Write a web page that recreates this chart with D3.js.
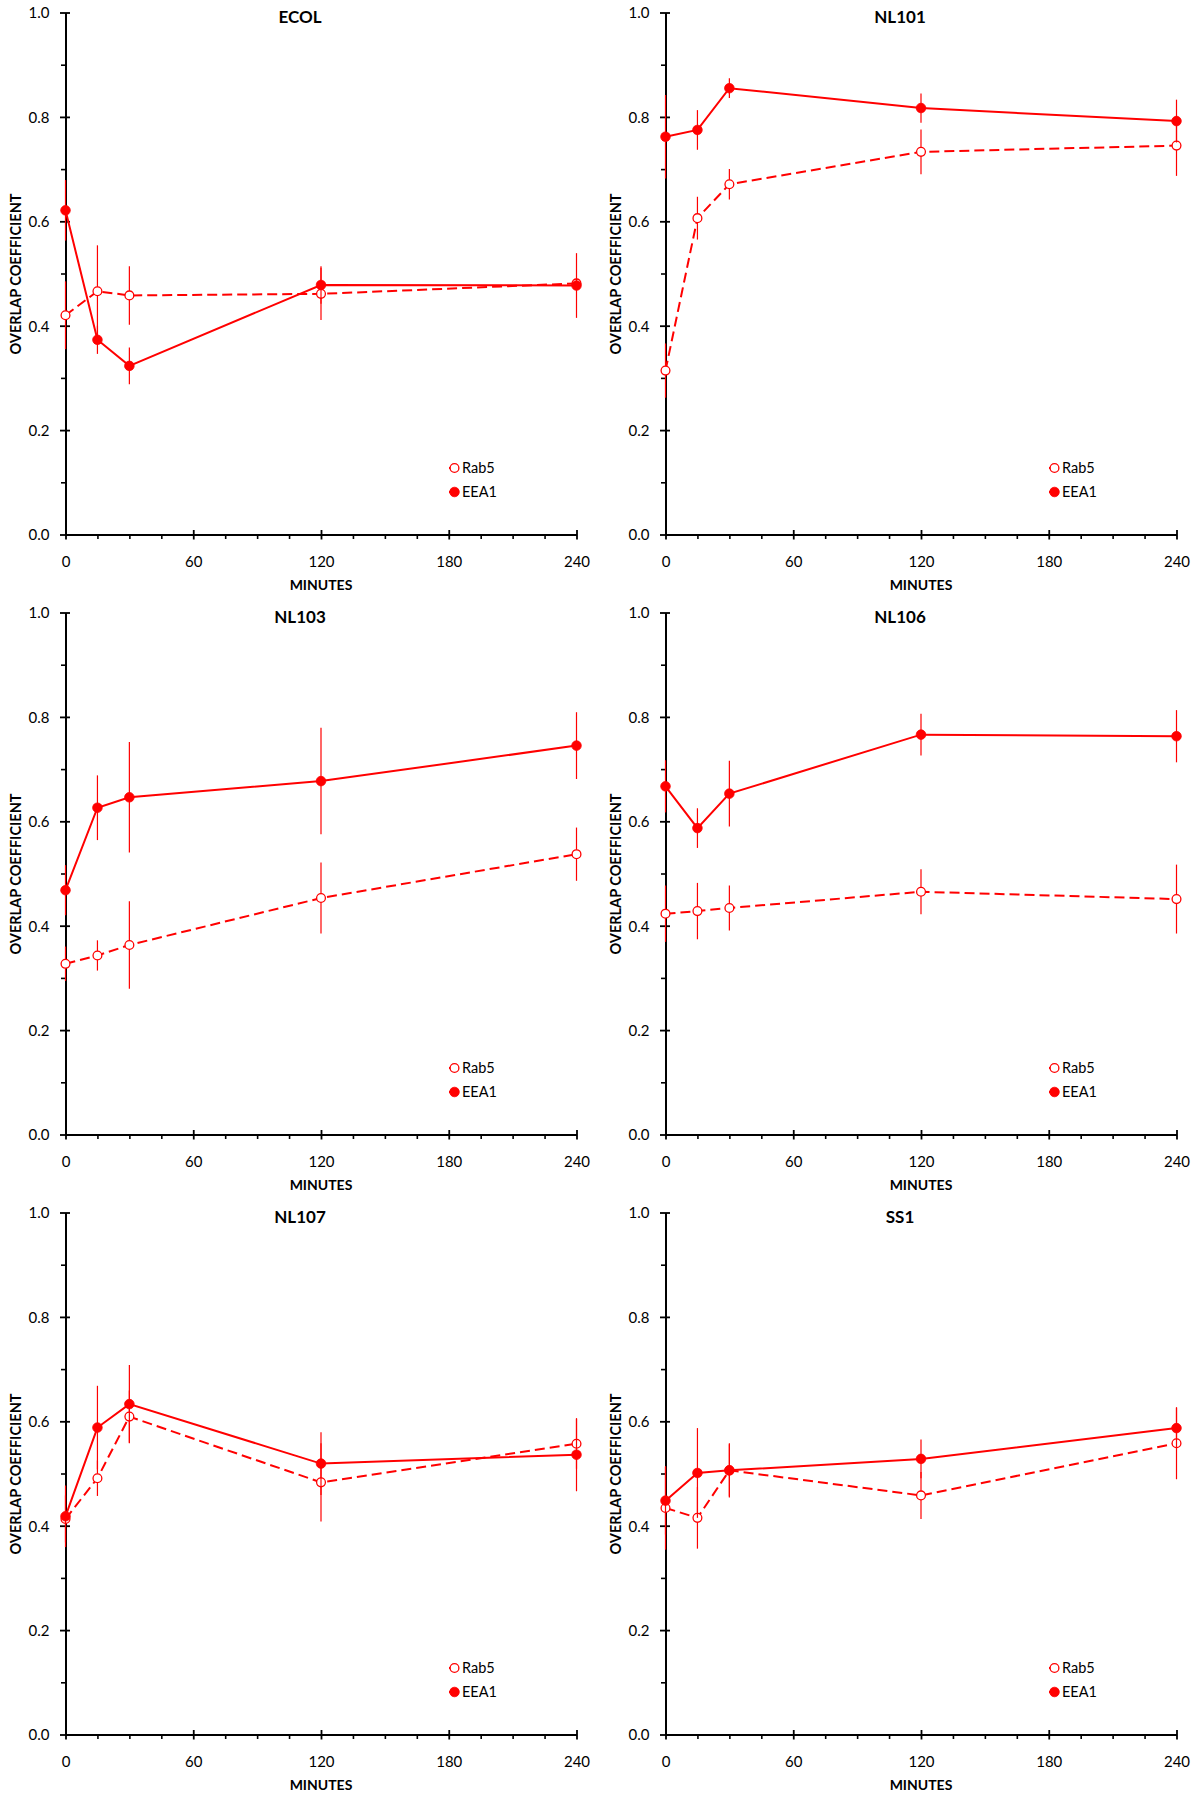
<!DOCTYPE html>
<html>
<head>
<meta charset="utf-8">
<script src="https://cdn.jsdelivr.net/npm/d3@7"></script>
<style>
  html, body { margin: 0; padding: 0; background: #fff; }
  svg { display: block; }
  text { font-family: Lato, "Open Sans", sans-serif; fill: #000; }
</style>
</head>
<body>
<svg id="chart" width="1200" height="1800"></svg>
<script>
// ---------------- DATA ----------------
const times = [0, 15, 30, 120, 240];
const panelNames = ["ECOL", "NL101", "NL103", "NL106", "NL107", "SS1"];
const seriesNames = ["Rab5", "EEA1"];
const yTickValues = [0, 0.2, 0.4, 0.6, 0.8, 1.0];
const yMinorTicks = [0.1, 0.3, 0.5, 0.7, 0.9];
const xTickValues = [0, 60, 120, 180, 240];
const xMinorTicks = [15, 30, 45, 75, 90, 105, 135, 150, 165, 195, 210, 225];

const ECOL_Rab5      = [0.420, 0.466, 0.458, 0.461, 0.481];
const ECOL_Rab5_err  = [0.065, 0.088, 0.056, 0.050, 0.010];
const ECOL_EEA1      = [0.621, 0.373, 0.323, 0.478, 0.477];
const ECOL_EEA1_err  = [0.058, 0.027, 0.035, 0.036, 0.062];

const NL101_Rab5     = [0.314, 0.606, 0.671, 0.733, 0.745];
const NL101_Rab5_err = [0.052, 0.041, 0.029, 0.043, 0.058];
const NL101_EEA1     = [0.762, 0.775, 0.855, 0.817, 0.792];
const NL101_EEA1_err = [0.080, 0.038, 0.019, 0.028, 0.041];

const NL103_Rab5     = [0.327, 0.343, 0.363, 0.453, 0.537];
const NL103_Rab5_err = [0.033, 0.029, 0.084, 0.068, 0.051];
const NL103_EEA1     = [0.468, 0.626, 0.646, 0.677, 0.745];
const NL103_EEA1_err = [0.048, 0.062, 0.106, 0.102, 0.064];

const NL106_Rab5     = [0.423, 0.428, 0.434, 0.465, 0.451];
const NL106_Rab5_err = [0.054, 0.054, 0.043, 0.043, 0.066];
const NL106_EEA1     = [0.667, 0.587, 0.653, 0.766, 0.763];
const NL106_EEA1_err = [0.050, 0.038, 0.063, 0.040, 0.050];

const NL107_Rab5     = [0.413, 0.491, 0.609, 0.483, 0.557];
const NL107_Rab5_err = [0.045, 0.034, 0.050, 0.075, 0.048];
const NL107_EEA1     = [0.418, 0.588, 0.633, 0.519, 0.536];
const NL107_EEA1_err = [0.059, 0.080, 0.075, 0.060, 0.070];

const SS1_Rab5       = [0.434, 0.415, 0.506, 0.458, 0.558];
const SS1_Rab5_err   = [0.080, 0.059, 0.050, 0.045, 0.069];
const SS1_EEA1       = [0.448, 0.501, 0.506, 0.528, 0.587];
const SS1_EEA1_err   = [0.065, 0.086, 0.052, 0.037, 0.039];

const panelRab5    = [ECOL_Rab5, NL101_Rab5, NL103_Rab5, NL106_Rab5, NL107_Rab5, SS1_Rab5];
const panelRab5Err = [ECOL_Rab5_err, NL101_Rab5_err, NL103_Rab5_err, NL106_Rab5_err, NL107_Rab5_err, SS1_Rab5_err];
const panelEEA1    = [ECOL_EEA1, NL101_EEA1, NL103_EEA1, NL106_EEA1, NL107_EEA1, SS1_EEA1];
const panelEEA1Err = [ECOL_EEA1_err, NL101_EEA1_err, NL103_EEA1_err, NL106_EEA1_err, NL107_EEA1_err, SS1_EEA1_err];

// ---------------- DRAW ----------------
const RED = "#ff0000";
const svg = d3.select("#chart");
const x = d3.scaleLinear().domain([0, 240]).range([65.5, 576.5]);
const y = d3.scaleLinear().domain([0, 1]).range([534.5, 12.5]);

panelNames.forEach((name, i) => {
  const col = i % 2, row = Math.floor(i / 2);
  const g = svg.append("g").attr("transform", `translate(${col * 600},${row * 600})`);

  // Y axis minor ticks
  g.append("g").attr("transform", `translate(${x(0)},0)`)
    .call(d3.axisLeft(y).tickValues(yMinorTicks).tickSize(4.5).tickFormat(""))
    .call(s => s.select(".domain").remove())
    .call(s => s.selectAll(".tick line").attr("stroke", "#000").attr("stroke-width", 1.6));

  // Y axis major
  const ya = g.append("g").attr("transform", `translate(${x(0)},0)`)
    .call(d3.axisLeft(y).tickValues(yTickValues).tickSizeInner(5).tickSizeOuter(0).tickFormat(d3.format(".1f")));
  ya.select(".domain").attr("stroke", "#000").attr("stroke-width", 2);
  ya.selectAll(".tick line").attr("x1", 4.5).attr("x2", -5.5).attr("stroke", "#000").attr("stroke-width", 1.8);
  ya.selectAll(".tick text").attr("x", -16).attr("dy", "0.36em")
    .style("font-family", "Lato, sans-serif").style("font-size", "15px").attr("fill", "#000");

  // X axis minor
  g.append("g").attr("transform", `translate(0,${y(0)})`)
    .call(d3.axisBottom(x).tickValues(xMinorTicks).tickSize(4.5).tickFormat(""))
    .call(s => s.select(".domain").remove())
    .call(s => s.selectAll(".tick line").attr("stroke", "#000").attr("stroke-width", 1.6));

  // X axis major
  const xa = g.append("g").attr("transform", `translate(0,${y(0)})`)
    .call(d3.axisBottom(x).tickValues(xTickValues).tickSizeInner(5).tickSizeOuter(0));
  xa.select(".domain").attr("stroke", "#000").attr("stroke-width", 2);
  xa.selectAll(".tick line").attr("y1", -4.5).attr("y2", 5).attr("stroke", "#000").attr("stroke-width", 1.8);
  xa.selectAll(".tick text").attr("y", 27).attr("dy", "0.36em")
    .style("font-family", "Lato, sans-serif").style("font-size", "15px").attr("fill", "#000");

  // Titles / labels
  g.append("text").attr("x", 300).attr("y", 23).attr("text-anchor", "middle")
    .style("font-weight", "bold").style("font-size", "17px").text(name);
  g.append("text").attr("x", 321).attr("y", 590).attr("text-anchor", "middle")
    .style("font-weight", "bold").style("font-size", "14px").text("MINUTES");
  g.append("text").attr("transform", `translate(21,274) rotate(-90)`).attr("text-anchor", "middle")
    .style("font-weight", "bold").style("font-size", "14.5px").text("OVERLAP COEFFICIENT");

  const seriesData = [
    { key: "Rab5", vals: panelRab5[i], errs: panelRab5Err[i], dash: "10,5", filled: false },
    { key: "EEA1", vals: panelEEA1[i], errs: panelEEA1Err[i], dash: null, filled: true }
  ];

  const line = d3.line().x(d => x(d.t)).y(d => y(d.v));

  seriesData.forEach(s => {
    const pts = times.map((t, k) => ({ t, v: s.vals[k], e: s.errs[k] }));
    const sg = g.append("g");
    // error bars
    sg.selectAll("line.err").data(pts).enter().append("line")
      .attr("x1", d => x(d.t)).attr("x2", d => x(d.t))
      .attr("y1", d => y(d.v - d.e)).attr("y2", d => y(d.v + d.e))
      .attr("stroke", RED).attr("stroke-width", 1.2);
    // line
    sg.append("path").datum(pts).attr("d", line)
      .attr("fill", "none").attr("stroke", RED).attr("stroke-width", 2)
      .attr("stroke-dasharray", s.dash);
    // markers
    sg.selectAll("circle").data(pts).enter().append("circle")
      .attr("cx", d => x(d.t)).attr("cy", d => y(d.v))
      .attr("r", s.filled ? 4.8 : 4.4)
      .attr("fill", s.filled ? RED : "#fff")
      .attr("stroke", RED).attr("stroke-width", s.filled ? 0.8 : 1.3);
  });

  // Legend
  const lg = g.append("g");
  seriesData.forEach((s, k) => {
    const ly = 468 + k * 24;
    lg.append("line").attr("x1", 449).attr("x2", 459).attr("y1", ly).attr("y2", ly)
      .attr("stroke", RED).attr("stroke-width", 2).attr("stroke-dasharray", s.dash);
    lg.append("circle").attr("cx", 454.5).attr("cy", ly)
      .attr("r", s.filled ? 4.8 : 4.4)
      .attr("fill", s.filled ? RED : "#fff")
      .attr("stroke", RED).attr("stroke-width", s.filled ? 0.8 : 1.3);
    lg.append("text").attr("x", 462).attr("y", ly).attr("dy", "0.36em")
      .style("font-size", "14.5px").text(seriesNames[k]);
  });
});
</script>
</body>
</html>
